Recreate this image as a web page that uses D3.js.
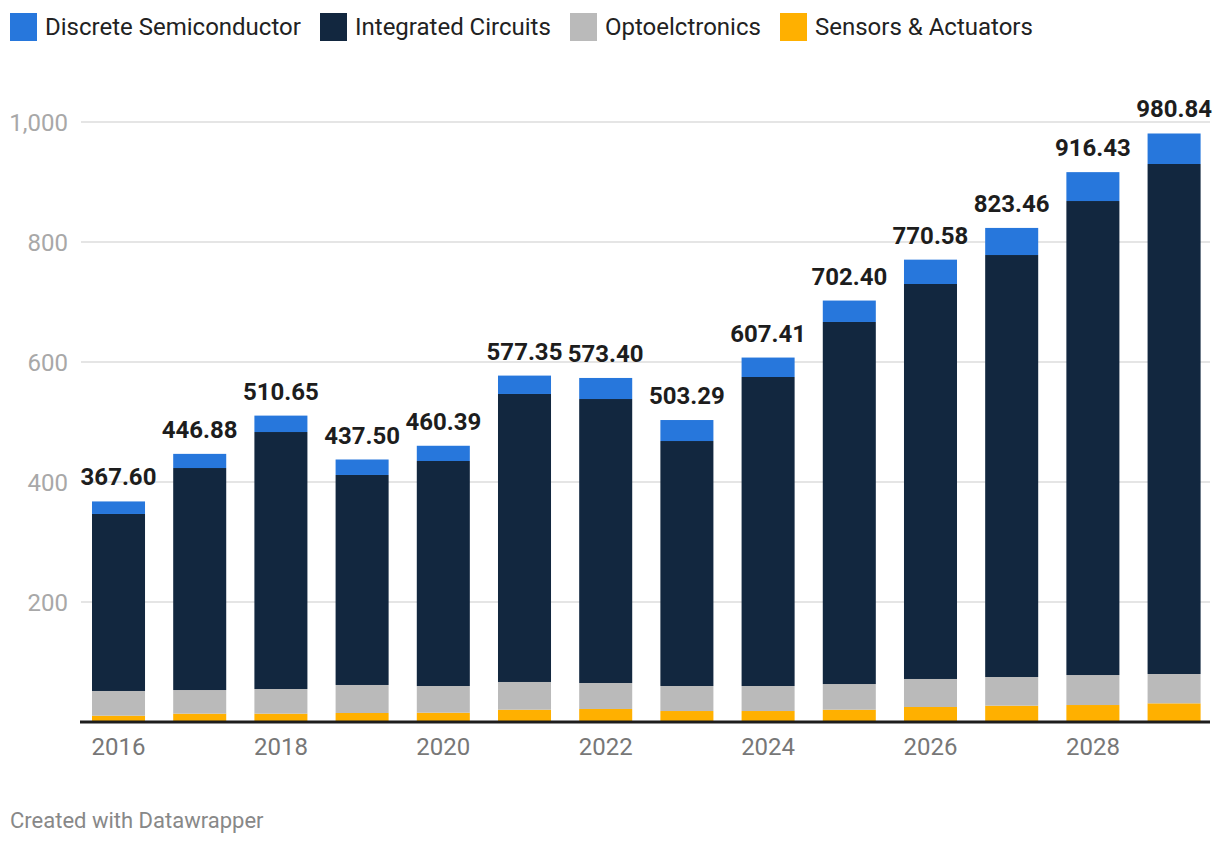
<!DOCTYPE html>
<html>
<head>
<meta charset="utf-8">
<script src="https://cdn.jsdelivr.net/npm/d3@7"></script>
<style>
  html, body { margin: 0; padding: 0; background: #fff; }
  svg { display: block; font-family: Roboto, "Noto Sans", sans-serif; }
</style>
</head>
<body>
<svg id="chart" width="1220" height="846"></svg>
<script>
const years = ["2016","2017","2018","2019","2020","2021","2022","2023","2024","2025","2026","2027","2028","2029"];
const seriesNames = ["Discrete Semiconductor", "Integrated Circuits", "Optoelctronics", "Sensors & Actuators"];
const sensors  = [10.5, 13.9, 13.9, 15.0, 15.5, 20.5, 21.7, 18.3, 18.3, 20.5, 25.0, 27.2, 28.3, 31.1];
const opto     = [41.2, 39.4, 41.1, 46.7, 44.5, 46.2, 43.3, 41.7, 41.7, 42.8, 46.7, 47.8, 50.0, 48.9];
const ic       = [295.0, 370.0, 428.3, 350.0, 375.0, 480.0, 473.3, 408.3, 515.0, 603.4, 658.3, 703.3, 790.0, 850.0];
const discrete = [20.9, 23.58, 27.35, 25.8, 25.39, 30.65, 35.1, 34.99, 32.41, 35.7, 40.58, 45.16, 48.13, 50.84];
const totalLabels = ["367.60","446.88","510.65","437.50","460.39","577.35","573.40","503.29","607.41","702.40","770.58","823.46","916.43","980.84"];
const yTicks = [0, 200, 400, 600, 800, 1000];
const xTickLabels = ["2016","2018","2020","2022","2024","2026","2028"];
const footer = "Created with Datawrapper";

const colors = {
  "Discrete Semiconductor": "#2777dc",
  "Integrated Circuits": "#12273f",
  "Optoelctronics": "#bababa",
  "Sensors & Actuators": "#ffb000"
};

const svg = d3.select("#chart");

// data table
const keys = ["Sensors & Actuators", "Optoelctronics", "Integrated Circuits", "Discrete Semiconductor"];
const table = years.map((y, i) => ({
  year: y,
  "Sensors & Actuators": sensors[i],
  "Optoelctronics": opto[i],
  "Integrated Circuits": ic[i],
  "Discrete Semiconductor": discrete[i],
  label: totalLabels[i]
}));

const x = d3.scaleBand().domain(years).range([92, 1200.6]).paddingInner(0.347).paddingOuter(0);
const y = d3.scaleLinear().domain([0, 1000]).range([722, 122]);

// gridlines
const grid = svg.append("g");
grid.selectAll("line").data(yTicks.filter(d => d > 0)).join("line")
  .attr("x1", 81).attr("x2", 1210)
  .attr("y1", d => y(d)).attr("y2", d => y(d))
  .attr("stroke", "#e5e5e5").attr("stroke-width", 2);

// y axis labels
const yAxis = d3.axisLeft(y).tickValues(yTicks.filter(d => d > 0)).tickFormat(d3.format(",")).tickSize(0).tickPadding(0);
const yg = svg.append("g").attr("transform", "translate(68,0)").call(yAxis);
yg.select(".domain").remove();
yg.selectAll("text").attr("font-size", 24).attr("fill", "#a8a8a8").attr("font-family", "Roboto").attr("dy", "0.35em");

// stacks
const stack = d3.stack().keys(keys)(table);
svg.append("g").selectAll("g").data(stack).join("g")
  .attr("fill", d => colors[d.key])
  .selectAll("rect").data(d => d).join("rect")
  .attr("x", d => x(d.data.year))
  .attr("width", x.bandwidth())
  .attr("y", d => y(d[1]))
  .attr("height", d => y(d[0]) - y(d[1]));

// baseline
svg.append("line").attr("x1", 80).attr("x2", 1210).attr("y1", y(0)).attr("y2", y(0))
  .attr("stroke", "#1d1d1d").attr("stroke-width", 3);

// total labels
svg.append("g").selectAll("text").data(table).join("text")
  .attr("x", d => x(d.year) + x.bandwidth() / 2)
  .attr("y", d => y(parseFloat(d.label)) - 16)
  .attr("text-anchor", "middle")
  .attr("font-size", 24).attr("font-weight", 700).attr("fill", "#1d1d1d")
  .text(d => d.label);

// x axis labels
const xAxis = d3.axisBottom(x).tickValues(xTickLabels).tickSize(0).tickPadding(0);
const xg = svg.append("g").attr("transform", "translate(0,755)").call(xAxis);
xg.select(".domain").remove();
xg.selectAll("text").attr("font-size", 24).attr("fill", "#777").attr("font-family", "Roboto").attr("dy", "0");

// legend
const legendPos = [10, 320, 570, 780];
const lg = svg.append("g").selectAll("g").data(seriesNames).join("g")
  .attr("transform", (d, i) => `translate(${legendPos[i]},13)`);
lg.append("rect").attr("width", 27).attr("height", 28).attr("fill", d => colors[d]);
lg.append("text").attr("x", 35).attr("y", 22).attr("font-size", 24).attr("fill", "#222").text(d => d);

// footer
svg.append("text").attr("x", 10).attr("y", 828).attr("font-size", 22).attr("fill", "#888").text(footer);
</script>
</body>
</html>
